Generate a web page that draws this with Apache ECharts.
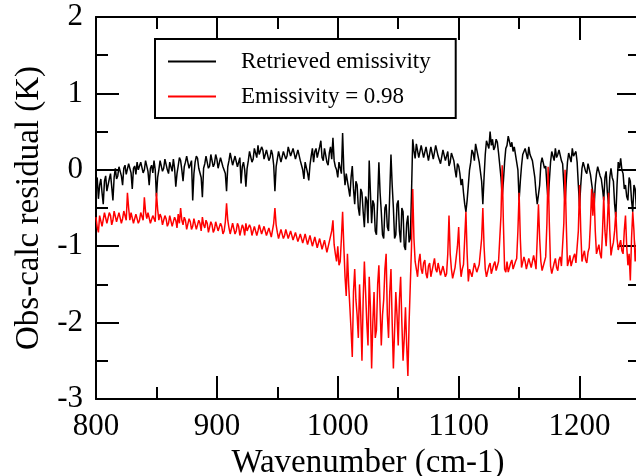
<!DOCTYPE html>
<html>
<head>
<meta charset="utf-8">
<script src="https://cdn.jsdelivr.net/npm/echarts@6/dist/echarts.min.js"></script>
<style>
html,body{margin:0;padding:0;background:#fff;}
#chart{width:636px;height:476px;}
</style>
</head>
<body>
<div id="chart"></div>
<script>
// Wavenumber samples (cm-1), every 1 cm-1 from 800 to 1250
var wavenumbers = [];
for (var w = 800; w <= 1250; w += 1) wavenumbers.push(w);

// Retrieved emissivity residual (K)
var retrieved = [
-0.22,-0.10,-0.38,-0.20,-0.12,-0.30,-0.45,-0.15,-0.08,-0.28,
-0.30,-0.12,-0.05,-0.22,-0.40,-0.10,0.02,-0.12,-0.08,0.04,
0.05,-0.08,-0.20,0.02,0.06,-0.06,-0.05,0.08,0.08,-0.04,
-0.25,0.02,0.05,-0.06,0.10,0.00,-0.02,0.10,0.08,-0.04,
0.00,0.12,0.10,-0.02,-0.20,0.02,0.06,-0.04,0.12,0.00,
-0.35,-0.10,0.00,0.12,0.10,-0.02,0.02,0.14,0.12,0.00,
-0.05,0.10,0.08,-0.02,0.14,0.02,-0.22,-0.05,0.05,0.16,
0.12,0.00,-0.15,0.04,0.10,0.18,0.16,0.02,0.02,0.12,
-0.40,-0.05,0.10,0.18,0.15,0.02,0.04,-0.10,-0.36,0.02,
0.08,0.18,0.16,0.02,0.05,0.20,0.18,0.04,0.08,0.20,
0.14,0.02,0.02,0.16,0.18,0.04,0.06,-0.05,-0.28,0.04,
0.12,0.22,0.20,0.06,0.05,0.18,0.16,0.04,0.06,0.16,
-0.18,0.04,0.10,0.00,-0.22,0.02,0.12,0.24,0.22,0.10,
0.14,0.28,0.26,0.16,0.32,0.20,0.18,0.30,0.26,0.14,
0.14,0.26,0.24,0.12,0.16,0.26,0.20,0.06,-0.28,0.04,
0.14,0.24,0.22,0.10,0.12,0.24,0.26,0.14,0.18,0.30,
0.32,0.18,0.20,0.28,0.26,0.14,0.16,0.26,0.24,0.12,
0.10,0.00,-0.12,0.10,0.08,-0.04,-0.14,0.06,0.18,0.28,
0.10,0.24,0.28,0.16,0.18,0.30,0.38,0.16,0.12,0.28,
0.26,0.10,0.06,0.22,0.30,0.14,0.42,0.12,0.04,0.00,
-0.10,0.10,0.08,-0.05,0.48,0.00,-0.20,-0.05,-0.05,-0.25,
-0.35,-0.10,0.05,-0.25,-0.45,-0.15,-0.20,-0.50,-0.60,-0.25,
-0.30,-0.55,-0.75,-0.35,-0.40,-0.70,0.12,-0.30,-0.70,-0.40,
-0.45,-0.80,-0.85,-0.40,0.10,-0.30,-0.55,-0.85,-0.90,-0.50,
-0.45,-0.75,-0.80,-0.30,0.20,-0.20,-0.50,-0.90,-0.85,-0.45,
-0.40,-0.80,-0.95,-0.50,-0.55,-1.00,-1.05,-0.70,-0.60,-0.95,
-0.90,-0.30,0.40,0.25,0.15,0.34,0.32,0.16,0.18,0.32,
0.30,0.16,0.14,0.30,0.28,0.12,0.12,0.30,0.30,0.14,
0.16,0.32,0.34,0.18,0.20,0.08,0.10,0.26,0.28,0.12,
0.14,0.24,0.05,0.10,0.22,0.24,0.12,0.00,-0.10,0.08,
0.05,-0.05,-0.20,-0.12,-0.30,-0.45,-0.55,-0.40,-0.20,0.00,
0.10,0.26,0.22,0.12,0.34,0.26,0.24,0.10,0.10,-0.15,
-0.45,-0.10,0.20,0.38,0.36,0.28,0.50,0.32,0.40,0.26,
0.30,0.40,0.36,0.22,0.20,-0.10,-0.35,-0.15,0.10,0.28,
0.32,0.44,0.46,0.30,0.36,0.24,0.30,0.20,0.18,0.00,
-0.40,-0.15,0.05,0.20,0.18,0.28,0.26,0.14,0.30,0.20,
0.22,0.12,0.10,-0.10,-0.30,-0.45,-0.45,-0.20,0.08,0.16,
0.14,0.02,0.05,-0.20,-0.40,-0.15,0.10,0.24,0.22,0.12,
0.28,0.16,0.20,0.26,0.24,0.12,0.08,-0.20,-0.45,-0.15,
0.10,0.22,0.20,0.10,0.28,0.18,0.18,0.24,0.10,-0.20,
-0.48,-0.20,0.02,0.10,0.10,-0.02,-0.05,0.08,0.06,-0.06,
-0.08,-0.30,-0.50,-0.20,-0.05,0.04,0.05,-0.08,-0.12,-0.25,
-0.40,-0.10,-0.02,-0.30,-0.45,-0.10,0.02,-0.10,-0.15,-0.45,
-0.62,-0.20,0.10,0.02,0.15,0.00,-0.05,-0.25,-0.20,-0.35,
-0.40,-0.10,-0.15,-0.40,-0.55,-0.20,-0.25,-0.50,-0.45,-0.25,
-0.30
];

// Emissivity = 0.98 residual (K)
var fixedEmis = [
-0.62,-0.75,-0.82,-0.60,-0.58,-0.74,-0.72,-0.56,-0.55,-0.70,
-0.70,-0.56,-0.60,-0.72,-0.66,-0.54,-0.54,-0.68,-0.68,-0.56,
-0.58,-0.70,-0.64,-0.54,-0.56,-0.66,-0.30,-0.50,-0.66,-0.56,
-0.58,-0.70,-0.70,-0.58,-0.60,-0.70,-0.66,-0.56,-0.56,-0.66,
-0.36,-0.55,-0.64,-0.56,-0.58,-0.70,-0.70,-0.60,-0.60,-0.68,
-0.30,-0.52,-0.66,-0.58,-0.62,-0.72,-0.72,-0.60,-0.64,-0.74,
-0.70,-0.60,-0.62,-0.74,-0.74,-0.62,-0.66,-0.76,-0.58,-0.70,
-0.50,-0.66,-0.72,-0.62,-0.66,-0.78,-0.76,-0.64,-0.68,-0.78,
-0.74,-0.64,-0.66,-0.78,-0.78,-0.66,-0.70,-0.80,-0.62,-0.72,
-0.76,-0.66,-0.70,-0.82,-0.80,-0.68,-0.72,-0.82,-0.78,-0.68,
-0.70,-0.80,-0.82,-0.70,-0.74,-0.84,-0.80,-0.68,-0.44,-0.66,
-0.76,-0.84,-0.82,-0.70,-0.72,-0.84,-0.80,-0.70,-0.74,-0.86,
-0.84,-0.72,-0.76,-0.86,-0.70,-0.80,-0.82,-0.72,-0.76,-0.86,
-0.84,-0.74,-0.74,-0.86,-0.80,-0.72,-0.72,-0.84,-0.82,-0.74,
-0.76,-0.86,-0.84,-0.76,-0.78,-0.88,-0.86,-0.70,-0.50,-0.72,
-0.82,-0.90,-0.88,-0.78,-0.78,-0.90,-0.86,-0.78,-0.80,-0.90,
-0.88,-0.80,-0.82,-0.92,-0.90,-0.82,-0.84,-0.94,-0.92,-0.84,
-0.86,-0.96,-0.94,-0.84,-0.86,-0.98,-0.96,-0.86,-0.88,-1.00,
-0.98,-0.88,-0.90,-1.02,-1.00,-0.90,-0.92,-1.04,-1.02,-0.92,
-0.94,-1.08,-1.06,-0.94,-0.96,-0.80,-0.66,-0.98,-1.10,-1.20,
-1.00,-1.25,-1.20,-0.90,-0.55,-1.00,-1.40,-1.65,-1.10,-1.50,
-1.80,-2.10,-2.45,-1.60,-1.30,-1.70,-1.90,-2.20,-1.50,-1.90,
-2.50,-1.70,-1.20,-1.60,-2.00,-2.30,-1.40,-1.80,-2.60,-2.00,
-1.60,-2.20,-2.10,-1.50,-1.25,-1.80,-2.30,-1.90,-1.70,-1.30,
-1.10,-1.90,-2.20,-1.60,-1.30,-2.00,-2.60,-2.10,-1.60,-1.90,
-2.30,-1.70,-1.40,-2.00,-2.50,-2.20,-1.80,-2.30,-2.70,-2.00,
-1.50,-1.00,-0.25,-0.90,-1.20,-1.30,-1.40,-1.20,-1.10,-1.30,
-1.36,-1.22,-1.18,-1.36,-1.42,-1.26,-1.22,-1.40,-1.38,-1.24,
-1.16,-1.30,-1.34,-1.22,-1.20,-1.38,-1.40,-1.26,-1.24,-1.40,
-1.36,-1.10,-0.60,-1.10,-1.30,-1.42,-1.44,-1.28,-1.26,-1.00,
-0.75,-1.20,-1.40,-1.30,-1.24,-0.90,-0.55,-1.10,-1.46,-1.30,
-1.28,-1.40,-1.38,-1.22,-1.20,-1.34,-1.36,-1.24,-1.24,-0.90,
-0.50,-1.00,-1.30,-1.40,-1.42,-1.26,-1.22,-1.36,-1.38,-1.24,
-1.20,-1.32,-1.34,-1.20,-1.18,-0.60,0.06,-0.70,-1.30,-1.34,
-1.20,-1.34,-1.36,-1.22,-1.18,-1.30,-1.32,-1.20,-1.16,-0.80,
-0.30,-0.90,-1.28,-1.30,-1.14,-1.20,-1.30,-1.28,-1.16,-1.18,
-1.28,-1.26,-1.12,-1.20,-1.30,-0.90,-0.45,-0.90,-1.20,-1.32,
-1.34,-1.20,-1.14,-0.70,0.04,-0.70,-1.26,-1.36,-1.38,-1.22,
-1.16,-1.28,-1.32,-1.18,-1.14,-1.26,-1.28,-0.70,0.00,-0.70,
-1.26,-1.20,-1.12,-1.26,-1.28,-1.14,-1.10,-1.22,-1.24,-0.80,
-0.20,-0.80,-1.20,-1.12,-1.06,-1.18,-1.22,-1.08,-1.02,-0.70,
-0.25,-0.60,-0.30,-0.80,-1.10,-1.04,-0.98,-1.10,-1.16,-0.80,
-0.35,-0.80,-1.00,-0.70,-0.30,-0.80,-1.12,-1.02,-0.95,-0.80,
-0.55,-0.90,-1.05,-0.98,-0.92,-1.06,-1.10,-0.80,-0.60,-1.00,
-1.25,-1.10,-1.45,-0.90,-0.55,-0.80,-1.20,-1.00,-0.70,-0.90,
-1.10
];

var xTicks = [800, 900, 1000, 1100, 1200];
var yTicks = [-3, -2, -1, 0, 1, 2];
var seriesNames = ['Retrieved emissivity', 'Emissivity = 0.98'];

function pairs(xs, ys) {
  var out = [];
  for (var i = 0; i < xs.length && i < ys.length; i++) out.push([xs[i], ys[i]]);
  return out;
}

var FONT = '"Liberation Serif", "DejaVu Serif", serif';
var axisLine = {show: true, onZero: false, lineStyle: {color: '#000', width: 2}};
var tick = {show: true, inside: true, length: 23, lineStyle: {color: '#000', width: 2}};
var minor = {show: true, splitNumber: 2, length: 12, lineStyle: {color: '#000', width: 2}};
function plain(v) { return String(v); }

var chart = echarts.init(document.getElementById('chart'), null, {renderer: 'canvas'});
chart.setOption({
  animation: false,
  backgroundColor: '#fff',
  grid: {left: 96, top: 17, right: -4, bottom: 77, containLabel: false, outerBoundsMode: 'none'},
  legend: {
    left: 155, top: 39,
    orient: 'vertical',
    data: seriesNames,
    icon: 'rect',
    itemWidth: 48, itemHeight: 2, itemGap: 12,
    padding: [11, 25, 10, 13],
    borderColor: '#000', borderWidth: 2, borderRadius: 0,
    backgroundColor: '#fff',
    textStyle: {fontFamily: FONT, fontSize: 23, color: '#000', padding: [0, 0, 0, 20]}
  },
  xAxis: [{
    type: 'value', position: 'bottom', min: xTicks[0], max: 1250, interval: 100,
    axisLine: axisLine, axisTick: tick, minorTick: minor, splitLine: {show: false},
    axisLabel: {fontFamily: FONT, fontSize: 31, color: '#000', margin: 12, formatter: plain},
    name: 'Wavenumber (cm-1)', nameLocation: 'middle', nameGap: 45,
    nameTextStyle: {fontFamily: FONT, fontSize: 33, color: '#000'}
  }, {
    type: 'value', position: 'top', min: xTicks[0], max: 1250, interval: 100,
    axisLine: axisLine, axisTick: tick, minorTick: minor, splitLine: {show: false},
    axisLabel: {show: false}
  }],
  yAxis: [{
    type: 'value', position: 'left', min: yTicks[0], max: yTicks[yTicks.length - 1], interval: 1,
    axisLine: axisLine, axisTick: tick, minorTick: minor, splitLine: {show: false},
    axisLabel: {fontFamily: FONT, fontSize: 31, color: '#000', margin: 13, formatter: plain},
    name: 'Obs-calc residual (K)', nameLocation: 'middle', nameGap: 50, nameRotate: 90,
    nameTextStyle: {fontFamily: FONT, fontSize: 33, color: '#000'}
  }, {
    type: 'value', position: 'right', min: yTicks[0], max: yTicks[yTicks.length - 1], interval: 1,
    axisLine: axisLine, axisTick: tick, minorTick: minor, splitLine: {show: false},
    axisLabel: {show: false}
  }],
  series: [{
    name: seriesNames[0], type: 'line', xAxisIndex: 0, yAxisIndex: 0,
    data: pairs(wavenumbers, retrieved),
    showSymbol: false, symbol: 'none', clip: true,
    lineStyle: {color: '#000', width: 1.5}, itemStyle: {color: '#000'}
  }, {
    name: seriesNames[1], type: 'line', xAxisIndex: 0, yAxisIndex: 0,
    data: pairs(wavenumbers, fixedEmis),
    showSymbol: false, symbol: 'none', clip: true,
    lineStyle: {color: '#ff0000', width: 1.5}, itemStyle: {color: '#ff0000'}
  }]
});
</script>
</body>
</html>
